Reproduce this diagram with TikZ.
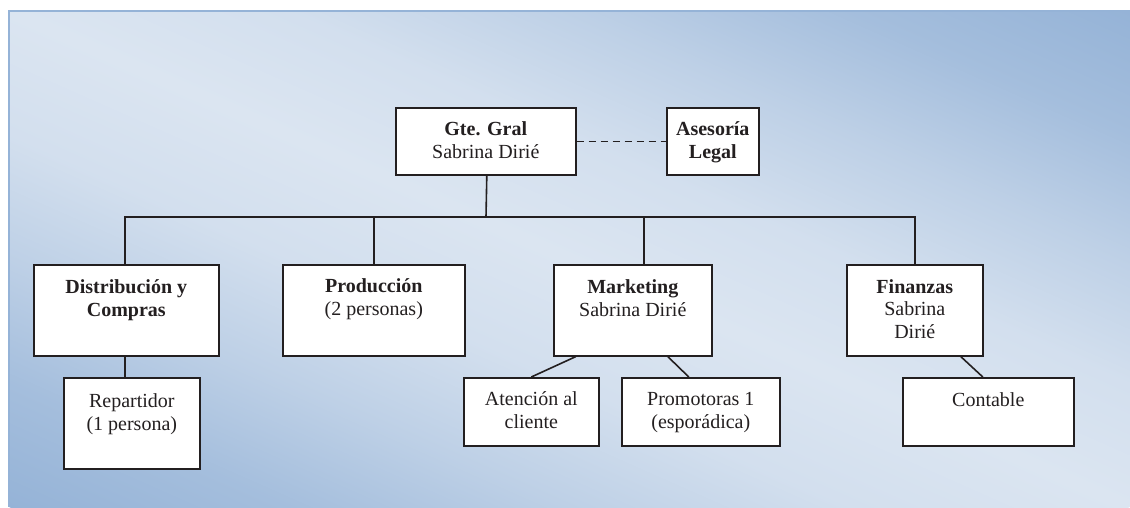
\documentclass[tikz,border=0pt]{standalone}
\usepackage{fontspec}
\setmainfont{Liberation Serif}
\usetikzlibrary{calc}
\definecolor{panelDark}{HTML}{95B3D7}
\definecolor{panelLight}{HTML}{DBE5F1}
\colorlet{pcA}{panelDark!12!panelLight}
\colorlet{pcB}{panelDark!42!panelLight}
\colorlet{pcC}{panelDark!78!panelLight}
\definecolor{ink}{HTML}{231F20}
\pgfdeclareverticalshading{panelshade}{100bp}{%
  color(0bp)=(panelDark); color(25bp)=(panelDark); color(31.25bp)=(pcC);
  color(37.5bp)=(pcB); color(43.75bp)=(pcA); color(50bp)=(panelLight);
  color(56.25bp)=(pcA); color(62.5bp)=(pcB); color(68.75bp)=(pcC);
  color(75bp)=(panelDark); color(100bp)=(panelDark)}
\begin{document}
\begin{tikzpicture}[x=1pt,y=-1pt,
  box/.style={draw=ink, line width=1.6pt, fill=white, inner sep=0pt, anchor=north west},
  lbl/.style={text=ink, font=\fontsize{20}{23}\selectfont, align=center, inner sep=0pt, anchor=base},
  link/.style={draw=ink, line width=1.6pt},
  dlink/.style={draw=ink, line width=1.6pt, dash pattern=on 7pt off 5pt}]
\useasboundingbox (0,0) rectangle (1130,507);
% background panel: diagonal gradient, dark at top-right and bottom-left
\begin{scope}
  \clip (9,11) rectangle (1130,507);
  \shade[shading=panelshade,
    transform canvas={shift={(569.5,259)}, xscale=11.21, yscale=4.96, rotate=-45, scale=1.41421}]
    (-50,-50) rectangle (50,50);
\end{scope}
\draw[panelDark, line width=2pt] (9,507) -- (9,11) -- (1130,11);

% level 0 (label base = baseline of last line)
\node[box, minimum width=180pt, minimum height=67pt] (g) at (395,107) {};
\node[lbl] (gt) at ($(g.north)+(0,51)$) {\textbf{Gte. Gral}\\Sabrina Dirié};
\node[box, minimum width=92pt, minimum height=67pt] (as) at (666,107) {};
\node[lbl] (ast) at ($(as.north)+(0,51)$) {\textbf{Asesoría}\\\textbf{Legal}};

% level 1
\node[box, minimum width=185pt, minimum height=91pt] (d) at (33,264) {};
\node[lbl] (dt) at ($(d.north)+(0,52)$) {\textbf{Distribución y}\\\textbf{Compras}};
\node[box, minimum width=182pt, minimum height=91pt] (p) at (282,264) {};
\node[lbl] (pt) at ($(p.north)+(0,51)$) {\textbf{Producción}\\(2 personas)};
\node[box, minimum width=158pt, minimum height=91pt] (m) at (553,264) {};
\node[lbl] (mt) at ($(m.north)+(0,52)$) {\textbf{Marketing}\\Sabrina Dirié};
\node[box, minimum width=136pt, minimum height=91pt] (f) at (846,264) {};
\node[lbl, font=\fontsize{20}{22.5}\selectfont] (ft) at ($(f.north)+(0,74)$) {\textbf{Finanzas}\\Sabrina\\Dirié};

% level 2
\node[box, minimum width=136pt, minimum height=91pt] (r) at (63,377) {};
\node[lbl] (rt) at ($(r.north)+(0,53)$) {Repartidor\\(1 persona)};
\node[box, minimum width=135pt, minimum height=68pt] (a) at (463,377) {};
\node[lbl] (at) at ($(a.north)+(0,51)$) {Atención al\\cliente};
\node[box, minimum width=158pt, minimum height=68pt] (pr) at (621,377) {};
\node[lbl] (prt) at ($(pr.north)+(0,51)$) {Promotoras 1\\(esporádica)};
\node[box, minimum width=171pt, minimum height=68pt] (c) at (902,377) {};
\node[lbl] (ct) at ($(c.north)+(0,29)$) {Contable};

% connectors
\coordinate (bar) at (486,217);
\draw[dlink] (g.east) -- (as.west);
\draw[link] ([xshift=1pt]g.south) -- (bar);
\draw[link] ([xshift=-1.5pt]d.north) |- (bar);
\draw[link] (p.north) |- (bar);
\draw[link] ([xshift=11pt]m.north) |- (bar);
\draw[link] (f.north) |- (bar);
\draw[link] ([xshift=-1.5pt]d.south) -- ([xshift=-7pt]r.north);
\draw[link] ([xshift=-57pt]m.south) -- (a.north);
\draw[link] ([xshift=35pt]m.south) -- ([xshift=-12pt]pr.north);
\draw[link] ([xshift=46pt]f.south) -- ([xshift=-5.5pt]c.north);
\end{tikzpicture}
\end{document}
